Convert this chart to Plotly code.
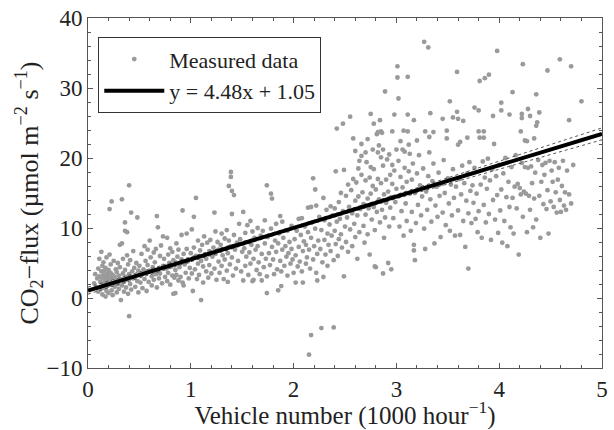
import plotly.graph_objects as go

# ---- data ----
pts_a = [(0.06,2.1),(0.07,3.4),(0.08,1.5),(0.09,2.8),(0.10,4.2),(0.10,0.9),(0.11,3.1),(0.11,5.6),(0.12,2.3),(0.12,1.2),(0.13,3.8),(0.13,6.6),(0.13,2.9),(0.14,0.5),(0.14,4.6),(0.15,2.0),(0.15,3.3),(0.15,5.1),(0.16,1.4),(0.16,2.6),(0.16,3.9),(0.17,0.2),(0.17,3.0),(0.17,4.3),(0.18,2.2),(0.18,1.0),(0.18,5.8),(0.19,3.5),(0.19,2.7),(0.19,1.7),(0.20,4.0),(0.20,0.7),(0.20,3.1),(0.21,2.4),(0.21,6.2),(0.21,12.7),(0.22,1.9),(0.22,3.6),(0.22,4.8),(0.23,13.8),(0.23,2.9),(0.23,1.1),(0.24,3.3),(0.24,0.4),(0.25,5.3),(0.25,2.1)]
pts_b = [(0.26,3.0),(0.26,1.6),(0.27,4.1),(0.27,2.5),(0.28,0.8),(0.28,3.7),(0.29,5.0),(0.29,2.0),(0.30,3.2),(0.30,1.3),(0.31,7.6),(0.31,4.4),(0.32,-0.3),(0.32,2.7),(0.33,7.8),(0.33,14.1),(0.33,1.8),(0.34,3.5),(0.34,5.6),(0.35,2.3),(0.35,0.9),(0.36,10.8),(0.36,9.6),(0.36,4.0),(0.37,3.0),(0.37,1.5),(0.38,9.4),(0.38,6.1),(0.38,2.6),(0.39,4.8),(0.39,0.6),(0.40,16.1),(0.40,-2.6),(0.40,3.4),(0.41,2.0),(0.41,5.4),(0.42,12.2),(0.42,1.2),(0.43,3.8),(0.44,2.8),(0.44,6.7),(0.45,4.3),(0.46,1.6),(0.46,3.1),(0.47,5.0),(0.48,11.5),(0.48,2.4),(0.49,3.9),(0.49,0.8)]
pts_c = [(0.50,4.6),(0.51,2.2),(0.52,6.3),(0.52,3.3),(0.53,1.4),(0.54,4.1),(0.55,7.4),(0.55,2.7),(0.56,5.3),(0.57,3.6),(0.57,1.0),(0.58,6.9),(0.58,4.7),(0.59,2.3),(0.60,3.9),(0.60,8.2),(0.61,5.8),(0.62,1.8),(0.62,3.1),(0.63,4.4),(0.64,6.5),(0.64,2.6),(0.65,5.1),(0.66,3.4),(0.66,7.0),(0.67,11.7),(0.67,1.5),(0.68,10.1),(0.68,4.0),(0.69,2.8),(0.70,6.0),(0.70,3.5),(0.71,7.5),(0.72,2.1),(0.73,8.8),(0.73,4.6),(0.74,5.6),(0.75,3.0)]
pts_d = [(0.76,4.2),(0.77,8.6),(0.77,2.4),(0.78,6.2),(0.78,3.6),(0.79,5.0),(0.80,1.9),(0.80,7.1),(0.81,4.5),(0.82,3.2),(0.82,6.6),(0.83,0.6),(0.83,5.4),(0.84,2.9),(0.85,0.7),(0.85,4.0),(0.86,7.8),(0.86,3.3),(0.87,5.9),(0.88,2.5),(0.88,6.9),(0.89,4.4),(0.90,3.0),(0.91,9.0),(0.91,5.5),(0.92,12.5),(0.92,2.2),(0.93,1.8),(0.93,6.3),(0.94,4.8),(0.95,3.6),(0.96,9.2),(0.96,7.0),(0.97,5.2),(0.98,2.8),(0.99,4.3),(1.00,6.4)]
pts_e = [(1.01,9.8),(1.01,3.5),(1.02,1.0),(1.02,5.6),(1.03,11.6),(1.03,7.2),(1.04,4.1),(1.05,14.3),(1.05,6.0),(1.06,2.7),(1.07,8.2),(1.07,4.9),(1.08,3.3),(1.09,6.8),(1.10,-0.3),(1.10,5.3),(1.11,7.6),(1.12,2.2),(1.12,4.5),(1.13,8.8),(1.14,6.2),(1.15,3.8),(1.15,5.6),(1.16,7.9),(1.17,2.9),(1.18,4.7),(1.18,6.7),(1.19,8.3),(1.20,3.5),(1.21,5.9),(1.22,7.2),(1.23,12.2),(1.23,4.2),(1.24,9.5),(1.24,6.3),(1.25,2.6)]
pts_f = [(1.26,8.0),(1.27,5.2),(1.27,6.9),(1.28,3.6),(1.29,7.6),(1.30,9.2),(1.30,4.6),(1.31,6.1),(1.32,2.7),(1.33,8.5),(1.33,5.5),(1.34,7.0),(1.35,9.7),(1.35,3.9),(1.36,2.3),(1.36,6.4),(1.37,16.0),(1.37,8.2),(1.38,4.8),(1.39,18.0),(1.39,17.3),(1.39,7.4),(1.40,15.3),(1.40,12.0),(1.40,5.8),(1.41,3.2),(1.42,14.7),(1.42,9.0),(1.43,6.9),(1.44,4.2),(1.45,7.9),(1.46,5.3),(1.47,10.6),(1.48,8.4),(1.49,3.8),(1.50,6.6)]
pts_g = [(1.51,2.5),(1.51,12.3),(1.52,7.1),(1.53,9.3),(1.53,4.6),(1.54,5.9),(1.55,10.4),(1.56,3.3),(1.56,8.0),(1.57,6.5),(1.58,11.0),(1.58,4.9),(1.59,7.6),(1.60,2.4),(1.60,9.5),(1.61,2.6),(1.61,5.6),(1.62,8.6),(1.63,6.9),(1.64,4.0),(1.65,10.0),(1.65,7.4),(1.66,5.1),(1.67,3.4),(1.68,8.9),(1.69,2.5),(1.69,6.3),(1.70,9.6),(1.71,4.4),(1.72,11.1),(1.72,7.8),(1.73,5.6),(1.74,16.1),(1.74,0.7),(1.74,3.1),(1.75,8.7)]
pts_h = [(1.76,6.4),(1.77,4.7),(1.78,14.9),(1.78,9.9),(1.79,14.2),(1.79,7.3),(1.80,5.5),(1.81,3.4),(1.82,8.2),(1.83,10.6),(1.83,6.6),(1.84,4.1),(1.85,1.1),(1.85,7.8),(1.86,9.2),(1.87,11.7),(1.87,5.3),(1.88,1.7),(1.88,3.8),(1.89,10.9),(1.89,6.9),(1.90,8.6),(1.91,4.6),(1.92,7.4),(1.93,5.9),(1.94,9.6),(1.94,3.2),(1.95,6.4),(1.96,8.0),(1.97,4.9),(1.98,10.3),(1.98,7.0),(1.99,5.5),(2.00,3.6)]
pts_i = [(2.01,8.4),(2.02,2.2),(2.02,6.1),(2.03,9.6),(2.04,4.5),(2.05,11.3),(2.05,7.3),(2.06,5.2),(2.07,9.0),(2.08,11.4),(2.08,3.8),(2.09,2.2),(2.09,6.7),(2.10,8.1),(2.11,10.2),(2.12,4.9),(2.12,7.6),(2.13,5.8),(2.14,12.9),(2.14,9.4),(2.15,-8.1),(2.15,6.9),(2.16,4.2),(2.17,13.0),(2.17,-5.3),(2.17,8.6),(2.18,10.8),(2.19,17.1),(2.19,5.5),(2.20,7.4),(2.21,15.5),(2.21,9.9),(2.22,13.2),(2.22,3.6),(2.23,2.5),(2.23,6.3),(2.24,8.2),(2.25,11.6)]
pts_j = [(2.26,7.0),(2.27,-4.3),(2.27,9.7),(2.28,5.1),(2.29,14.3),(2.29,3.0),(2.30,11.1),(2.30,8.3),(2.31,6.2),(2.32,12.6),(2.33,9.2),(2.33,4.6),(2.34,7.6),(2.35,10.5),(2.36,13.1),(2.36,6.7),(2.37,8.9),(2.38,11.8),(2.39,-4.2),(2.39,5.4),(2.40,12.8),(2.40,9.6),(2.41,18.1),(2.41,7.7),(2.42,24.2),(2.42,10.9),(2.43,6.0),(2.44,13.7),(2.44,8.4),(2.45,11.3),(2.46,15.0),(2.46,9.1),(2.47,7.2),(2.48,24.9),(2.48,12.4),(2.49,18.3),(2.49,3.1),(2.50,10.2)]
pts_k = [(2.51,14.6),(2.51,8.0),(2.52,11.5),(2.53,16.2),(2.53,6.6),(2.54,13.0),(2.55,25.9),(2.55,9.8),(2.56,15.4),(2.57,12.1),(2.57,7.4),(2.58,22.8),(2.58,17.0),(2.59,10.6),(2.60,13.9),(2.60,8.7),(2.61,16.5),(2.62,11.8),(2.62,5.6),(2.63,18.5),(2.63,14.5),(2.64,9.4),(2.65,12.7),(2.66,22.0),(2.66,20.3),(2.66,17.6),(2.67,15.1),(2.68,10.3),(2.68,13.4),(2.69,7.9),(2.70,16.8),(2.70,11.9),(2.71,19.4),(2.72,14.2),(2.72,9.1),(2.73,12.8),(2.74,17.2),(2.74,6.2),(2.75,26.3),(2.75,18.7),(2.75,14.9)]
pts_l = [(2.76,11.2),(2.77,21.2),(2.77,16.0),(2.78,18.4),(2.78,13.0),(2.79,4.5),(2.79,9.7),(2.80,15.5),(2.80,4.4),(2.81,12.3),(2.82,23.7),(2.82,20.8),(2.82,17.0),(2.83,14.1),(2.84,25.4),(2.84,10.8),(2.85,23.8),(2.85,20.1),(2.85,16.4),(2.86,12.6),(2.87,3.5),(2.87,18.9),(2.88,14.8),(2.88,8.6),(2.89,11.5),(2.89,29.5),(2.90,16.9),(2.90,13.6),(2.91,19.8),(2.92,5.0),(2.92,15.2),(2.93,10.2),(2.94,17.6),(2.94,12.9),(2.95,4.1),(2.95,14.4),(2.96,23.8),(2.96,16.3),(2.97,11.4),(2.98,26.2),(2.98,18.2),(2.99,13.7),(3.00,15.6)]
pts_upper_cloud = [(2.81,23.4),(2.86,23.6),(2.83,21.8),(2.87,21.2),(3.00,21.2),(3.08,20.9),(2.70,20.8),(2.72,22.7),(2.93,20.5),(3.13,20.6),(2.64,19.6),(2.96,19.0),(3.04,22.4),(2.78,24.9),(3.20,22.5),(2.60,21.0)]
pts_m = [(3.01,33.1),(3.01,31.5),(3.02,28.5),(3.02,19.6),(3.03,14.6),(3.03,10.2),(3.04,17.3),(3.05,12.4),(3.06,21.2),(3.06,15.8),(3.07,23.9),(3.07,8.9),(3.08,18.6),(3.09,13.5),(3.10,16.6),(3.10,11.0),(3.11,31.6),(3.11,26.2),(3.11,23.8),(3.12,21.9),(3.12,18.1),(3.13,14.9),(3.14,9.6),(3.15,16.9),(3.15,12.3),(3.16,19.2),(3.17,25.4),(3.17,7.6),(3.17,6.8),(3.18,5.4),(3.18,15.0),(3.19,10.7),(3.20,17.8),(3.21,13.3),(3.22,20.4),(3.23,16.1),(3.24,11.8),(3.25,14.5)]
pts_n = [(3.26,18.5),(3.27,36.6),(3.27,9.9),(3.28,23.8),(3.28,7.0),(3.29,15.2),(3.30,12.6),(3.31,35.8),(3.31,17.4),(3.32,23.0),(3.32,20.8),(3.33,26.4),(3.33,14.1),(3.34,10.9),(3.35,16.7),(3.36,23.7),(3.36,19.2),(3.37,7.8),(3.38,13.2),(3.39,15.9),(3.40,11.6),(3.41,17.9),(3.42,14.6),(3.43,8.7),(3.44,16.3),(3.45,25.6),(3.45,12.2),(3.46,19.7),(3.47,15.0),(3.48,10.4),(3.49,23.9),(3.49,22.8),(3.50,17.1)]
pts_o = [(3.51,13.5),(3.52,28.1),(3.52,9.6),(3.53,16.2),(3.54,11.8),(3.55,25.8),(3.55,18.4),(3.56,14.3),(3.57,8.9),(3.58,15.9),(3.59,32.3),(3.59,26.6),(3.60,25.6),(3.60,21.9),(3.60,12.5),(3.61,17.0),(3.62,22.3),(3.62,9.0),(3.63,14.8),(3.64,18.9),(3.65,25.3),(3.65,11.0),(3.66,16.4),(3.67,7.3),(3.68,13.9),(3.69,22.9),(3.69,17.8),(3.70,4.2),(3.70,12.1),(3.71,19.4),(3.72,15.3),(3.73,10.7),(3.74,16.1),(3.75,13.6)]
pts_p = [(3.76,27.2),(3.76,18.6),(3.77,11.3),(3.78,14.9),(3.79,9.4),(3.80,26.8),(3.80,23.8),(3.80,12.4),(3.81,31.0),(3.81,22.9),(3.82,16.2),(3.83,8.6),(3.84,19.5),(3.85,23.8),(3.85,22.9),(3.85,13.3),(3.86,31.4),(3.86,17.2),(3.87,10.8),(3.88,15.6),(3.89,19.9),(3.90,31.9),(3.90,12.0),(3.91,16.8),(3.92,8.3),(3.93,18.4),(3.94,26.0),(3.94,14.0),(3.95,22.0),(3.96,11.2),(3.97,17.4),(3.98,35.3),(3.98,14.7),(3.99,9.3),(4.00,19.0)]
pts_q = [(4.01,12.5),(4.02,27.9),(4.02,26.8),(4.02,15.5),(4.03,7.9),(4.04,17.8),(4.05,11.0),(4.06,20.0),(4.07,14.4),(4.08,7.4),(4.09,16.6),(4.10,26.2),(4.10,13.0),(4.11,10.1),(4.12,18.7),(4.13,29.4),(4.13,14.3),(4.14,9.2),(4.15,15.9),(4.16,20.4),(4.17,12.8),(4.18,16.3),(4.19,6.2),(4.20,15.7),(4.21,23.8),(4.21,14.8),(4.22,26.3),(4.22,25.7),(4.22,19.3),(4.23,33.4),(4.23,11.6),(4.24,15.2),(4.25,22.5),(4.25,18.7)]
pts_r = [(4.26,14.9),(4.27,22.4),(4.27,9.4),(4.28,27.0),(4.28,18.6),(4.29,14.6),(4.30,26.0),(4.30,12.6),(4.31,18.8),(4.32,16.4),(4.33,10.1),(4.34,22.8),(4.34,14.2),(4.35,17.9),(4.36,29.1),(4.36,24.6),(4.36,11.2),(4.37,25.1),(4.38,19.7),(4.39,26.5),(4.39,14.6),(4.40,8.6),(4.41,16.6),(4.42,19.0),(4.43,13.4),(4.44,17.6),(4.45,19.3),(4.46,12.7),(4.47,32.5),(4.47,15.4),(4.48,9.2),(4.49,19.6),(4.50,13.8)]
pts_s = [(4.51,18.2),(4.52,16.6),(4.53,13.0),(4.54,19.4),(4.55,15.1),(4.56,12.2),(4.57,16.9),(4.58,18.6),(4.59,34.1),(4.59,14.0),(4.60,12.3),(4.61,16.0),(4.62,19.6),(4.63,13.2),(4.64,15.1),(4.65,12.6),(4.66,18.2),(4.68,25.4),(4.68,14.8),(4.70,33.1),(4.70,13.5),(4.72,19.0),(4.80,28.1)]

slope = 4.48
intercept = 1.05
fit_x = [0, 5]

ci_x = [0, 1, 2, 3, 4, 5]
ci_upper = [1.55, 5.83, 10.21, 14.79, 19.52, 24.30]
ci_lower = [0.55, 5.23, 9.81, 14.19, 18.42, 22.60]

x_ticks = [0, 1, 2, 3, 4, 5]
y_ticks = [-10, 0, 10, 20, 30, 40]

all_pts = (pts_a + pts_b + pts_c + pts_d + pts_e + pts_f + pts_g + pts_h + pts_i +
           pts_j + pts_k + pts_l + pts_upper_cloud + pts_m + pts_n + pts_o + pts_p +
           pts_q + pts_r + pts_s)
xs = [p[0] for p in all_pts]
ys = [p[1] for p in all_pts]
fit_y = [slope * x + intercept for x in fit_x]

FONT = "Liberation Serif"
TXT = "#222"
fig = go.Figure()
fig.add_trace(go.Scatter(x=xs, y=ys, mode="markers", name="Measured data",
                         marker=dict(size=4.8, color="#9a9a9a", line=dict(width=0))))
fig.add_trace(go.Scatter(x=ci_x, y=ci_upper, mode="lines", showlegend=False,
                         line=dict(color="#555", width=1, dash="dot")))
fig.add_trace(go.Scatter(x=ci_x, y=ci_lower, mode="lines", showlegend=False,
                         line=dict(color="#555", width=1, dash="dot")))
fig.add_trace(go.Scatter(x=fit_x, y=fit_y, mode="lines", name="y = 4.48x + 1.05",
                         line=dict(color="black", width=4)))

axis_common = dict(showline=True, linecolor="#555", linewidth=1, mirror="allticks",
                   ticks="inside", ticklen=5, tickcolor="#555", showgrid=False,
                   zeroline=False, tickfont=dict(family=FONT, size=23, color=TXT))
fig.update_xaxes(range=[0, 5], tickvals=x_ticks, **axis_common,
                 minor=dict(ticks="inside", ticklen=3, dtick=0.2, tickcolor="#555", showgrid=False),
                 title=dict(text="Vehicle number (1000 hour<sup>\u22121</sup>)",
                            font=dict(family=FONT, size=25, color=TXT), standoff=0))
fig.update_yaxes(range=[-10, 40], tickvals=y_ticks, **axis_common,
                 minor=dict(ticks="inside", ticklen=3, dtick=2, tickcolor="#555", showgrid=False),
                 title=dict(text="CO<sub>2</sub>\u2212flux (\u00b5mol m<sup>\u22122</sup> s<sup>\u22121</sup>)",
                            font=dict(family=FONT, size=26, color=TXT), standoff=0))
fig.update_layout(
    width=614, height=430,
    margin=dict(l=88, r=6, t=16, b=62),
    paper_bgcolor="white", plot_bgcolor="white",
    legend=dict(x=0.02, y=0.945, xanchor="left", yanchor="top",
                bordercolor="#333", borderwidth=1, bgcolor="white",
                font=dict(family=FONT, size=22, color=TXT),
                itemwidth=60, tracegroupgap=0),
)
fig.write_html("out.html")
